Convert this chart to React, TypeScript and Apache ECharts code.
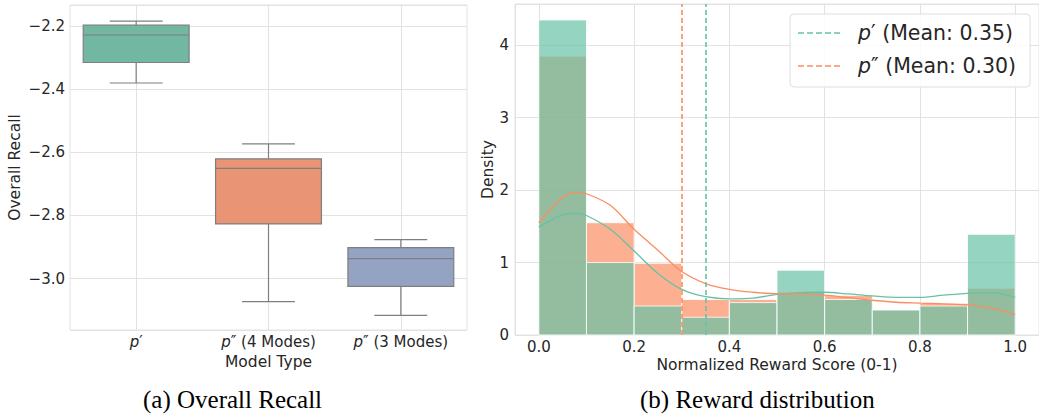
import React, { useEffect, useRef } from "react";
import * as echarts from "echarts";

// ---------- Data: (a) Overall Recall box plot ----------
const models = ["p′", "p″ (4 Modes)", "p″ (3 Modes)"];
const whiskerLow = [-2.381, -3.073, -3.117];
const q1 = [-2.316, -2.827, -3.025];
const median = [-2.229, -2.651, -2.937];
const q3 = [-2.198, -2.621, -2.902];
const whiskerHigh = [-2.185, -2.574, -2.877];

// ---------- Data: (b) Reward distribution ----------
const binStart = [0, 0.1, 0.2, 0.3, 0.4, 0.5, 0.6, 0.7, 0.8, 0.9];
const binWidth = 0.1;
const densityP1 = [4.35, 1.0, 0.4, 0.245, 0.447, 0.894, 0.49, 0.346, 0.4, 1.39];
const densityP2 = [3.85, 1.55, 0.99, 0.49, 0.49, 0.59, 0.544, 0.34, 0.438, 0.645];
const kdeX = [0, 0.05, 0.08, 0.1, 0.15, 0.2, 0.25, 0.3, 0.35, 0.4, 0.45, 0.5, 0.55, 0.6, 0.65, 0.7, 0.75, 0.8, 0.85, 0.9, 0.95, 1.0];
const kdeP1 = [1.49, 1.66, 1.68, 1.65, 1.46, 1.16, 0.85, 0.63, 0.53, 0.5, 0.51, 0.56, 0.585, 0.59, 0.567, 0.54, 0.52, 0.52, 0.55, 0.576, 0.585, 0.52];
const kdeP2 = [1.55, 1.9, 1.97, 1.95, 1.79, 1.46, 1.17, 0.876, 0.71, 0.63, 0.59, 0.57, 0.567, 0.55, 0.515, 0.48, 0.452, 0.44, 0.43, 0.415, 0.37, 0.286];
const meanP1 = 0.35;
const meanP2 = 0.3;
const legendP1 = "p′ (Mean: 0.35)";
const legendP2 = "p″ (Mean: 0.30)";

const FONT = "DejaVu Sans";
const TXT = "#262626";
const GRIDC = "#e2e2e2";
const boxColors = ["#71b7a1", "#e99575", "#95a3c3"];
const boxLine = "#7f7f7f";
const GREEN = "#66c2a5";
const ORANGE = "#fc8d62";
const DASH_ICON = "path://M0,0h6v1.6h-6zM9,0h6v1.6h-6zM18,0h6v1.6h-6zM27,0h6v1.6h-6zM36,0h6v1.6h-6z";

const italicP = (s: string) => s.replace(/^p/, "{i|p}");

export default function App() {
  const ref = useRef<HTMLDivElement>(null);
  useEffect(() => {
    if (!ref.current) return;
    const chart = echarts.init(ref.current, null, { renderer: "svg" });

    const boxData = models.map((_, i) => [i, whiskerLow[i], q1[i], median[i], q3[i], whiskerHigh[i]]);
    const histRender = (fill: string) => (params: any, api: any) => {
      const x0 = api.value(0);
      const x1 = api.value(1);
      const d = api.value(2);
      const p0 = api.coord([x0, 0]);
      const p1 = api.coord([x1, d]);
      return {
        type: "rect",
        shape: { x: p0[0], y: p1[1], width: p1[0] - p0[0], height: p0[1] - p1[1] },
        style: { fill, stroke: "rgba(255,255,255,0.8)", lineWidth: 1 },
      };
    };

    const nameStyle = { fontSize: 15.5, color: TXT, fontFamily: FONT };

    const option: any = {
      animation: false,
      backgroundColor: "#ffffff",
      textStyle: { fontFamily: FONT },
      grid: [
        { left: 70, right: 572, top: 5, bottom: 85, show: true, borderColor: GRIDC, borderWidth: 1 },
        { left: 515, right: -4, top: 4, bottom: 80, show: true, borderColor: GRIDC, borderWidth: 1 },
      ],
      xAxis: [
        {
          type: "category",
          gridIndex: 0,
          data: models,
          boundaryGap: true,
          axisLine: { show: false },
          axisTick: { show: false, alignWithLabel: true },
          splitLine: { show: true, alignWithLabel: true, lineStyle: { color: GRIDC, width: 1 } },
          axisLabel: {
            interval: 0,
            hideOverlap: false,
            margin: 4,
            fontSize: 15,
            lineHeight: 16,
            color: TXT,
            fontFamily: FONT,
            formatter: (v: string) => italicP(v),
            rich: { i: { fontStyle: "italic", fontSize: 15, lineHeight: 16, fontFamily: FONT, color: TXT } },
          },
          name: "Model Type",
          nameLocation: "middle",
          nameGap: 24,
          nameMoveOverlap: false,
          nameTextStyle: nameStyle,
        },
        {
          type: "value",
          gridIndex: 1,
          min: -0.05,
          max: 1.05,
          splitNumber: 5,
          axisLine: { show: false },
          axisTick: { show: false },
          splitLine: { show: true, lineStyle: { color: GRIDC, width: 1 } },
          axisLabel: {
            margin: 4,
            fontSize: 15,
            lineHeight: 16,
            color: TXT,
            fontFamily: FONT,
            showMinLabel: false,
            showMaxLabel: false,
            formatter: (v: number) => v.toFixed(1),
          },
          name: "Normalized Reward Score (0-1)",
          nameLocation: "middle",
          nameGap: 22,
          nameMoveOverlap: false,
          nameTextStyle: nameStyle,
        },
      ],
      yAxis: [
        {
          type: "value",
          gridIndex: 0,
          min: -3.163,
          max: -2.134,
          splitNumber: 5,
          axisLine: { show: false },
          axisTick: { show: false },
          splitLine: { show: true, lineStyle: { color: GRIDC, width: 1 } },
          axisLabel: {
            margin: 5,
            fontSize: 15,
            color: TXT,
            fontFamily: FONT,
            showMinLabel: false,
            showMaxLabel: false,
            formatter: (v: number) => v.toFixed(1).replace("-", "−"),
          },
          name: "Overall Recall",
          nameLocation: "middle",
          nameGap: 47,
          nameMoveOverlap: false,
          nameTextStyle: nameStyle,
        },
        {
          type: "value",
          gridIndex: 1,
          min: 0,
          max: 4.57,
          interval: 1,
          axisLine: { show: false },
          axisTick: { show: false },
          splitLine: { show: true, lineStyle: { color: GRIDC, width: 1 } },
          axisLabel: {
            margin: 6,
            fontSize: 15,
            color: TXT,
            fontFamily: FONT,
            showMaxLabel: false,
          },
          name: "Density",
          nameLocation: "middle",
          nameGap: 19,
          nameMoveOverlap: false,
          nameTextStyle: nameStyle,
        },
      ],
      legend: {
        data: [
          { name: legendP1, icon: DASH_ICON },
          { name: legendP2, icon: DASH_ICON },
        ],
        orient: "vertical",
        left: 790,
        top: 14,
        padding: [8, 14, 10, 8],
        itemWidth: 42,
        itemHeight: 14,
        itemGap: 11,
        backgroundColor: "rgba(255,255,255,0.85)",
        borderColor: "#dedede",
        borderWidth: 1,
        borderRadius: 4,
        formatter: (name: string) => italicP(name),
        textStyle: {
          fontSize: 20.5,
          lineHeight: 22,
          color: TXT,
          fontFamily: FONT,
          padding: [0, 0, 0, 13],
          rich: { i: { fontStyle: "italic", fontSize: 20.5, fontFamily: FONT, color: TXT } },
        },
      },
      series: [
        {
          type: "custom",
          name: "Overall Recall",
          xAxisIndex: 0,
          yAxisIndex: 0,
          data: boxData,
          encode: { x: 0, y: [1, 2, 3, 4, 5] },
          renderItem: (params: any, api: any) => {
            const i = api.value(0);
            const band = api.size([1, 0])[0];
            const half = band * 0.4;
            const cap = band * 0.2;
            const c = api.coord([i, api.value(3)])[0];
            const yLow = api.coord([i, api.value(1)])[1];
            const yQ1 = api.coord([i, api.value(2)])[1];
            const yMed = api.coord([i, api.value(3)])[1];
            const yQ3 = api.coord([i, api.value(4)])[1];
            const yHigh = api.coord([i, api.value(5)])[1];
            const ls = { stroke: boxLine, lineWidth: 1.2 };
            return {
              type: "group",
              children: [
                { type: "line", shape: { x1: c, y1: yHigh, x2: c, y2: yQ3 }, style: ls },
                { type: "line", shape: { x1: c, y1: yQ1, x2: c, y2: yLow }, style: ls },
                { type: "line", shape: { x1: c - cap, y1: yHigh, x2: c + cap, y2: yHigh }, style: ls },
                { type: "line", shape: { x1: c - cap, y1: yLow, x2: c + cap, y2: yLow }, style: ls },
                {
                  type: "rect",
                  shape: { x: c - half, y: yQ3, width: 2 * half, height: yQ1 - yQ3 },
                  style: { fill: boxColors[i], stroke: boxLine, lineWidth: 1.2 },
                },
                { type: "line", shape: { x1: c - half, y1: yMed, x2: c + half, y2: yMed }, style: ls },
              ],
            };
          },
        },
        {
          type: "custom",
          name: "p″ hist",
          xAxisIndex: 1,
          yAxisIndex: 1,
          data: binStart.map((s, i) => [s, s + binWidth, densityP2[i]]),
          encode: { x: [0, 1], y: 2 },
          renderItem: histRender("rgba(252,141,98,0.7)"),
          z: 2,
        },
        {
          type: "custom",
          name: "p′ hist",
          xAxisIndex: 1,
          yAxisIndex: 1,
          data: binStart.map((s, i) => [s, s + binWidth, densityP1[i]]),
          encode: { x: [0, 1], y: 2 },
          renderItem: histRender("rgba(102,194,165,0.7)"),
          z: 3,
        },
        {
          type: "line",
          name: "p′ kde",
          xAxisIndex: 1,
          yAxisIndex: 1,
          data: kdeX.map((x, i) => [x, kdeP1[i]]),
          smooth: 0.35,
          symbol: "none",
          lineStyle: { color: GREEN, width: 1.3 },
          z: 4,
        },
        {
          type: "line",
          name: "p″ kde",
          xAxisIndex: 1,
          yAxisIndex: 1,
          data: kdeX.map((x, i) => [x, kdeP2[i]]),
          smooth: 0.35,
          symbol: "none",
          lineStyle: { color: ORANGE, width: 1.3 },
          z: 4,
        },
        {
          type: "line",
          name: legendP1,
          xAxisIndex: 1,
          yAxisIndex: 1,
          data: [],
          symbol: "none",
          itemStyle: { color: GREEN },
          lineStyle: { color: GREEN, type: [5, 3], width: 1.6 },
          z: 5,
          markLine: {
            silent: true,
            symbol: ["none", "none"],
            label: { show: false },
            lineStyle: { color: GREEN, type: [5, 3], width: 1.6 },
            data: [{ xAxis: meanP1 }],
          },
        },
        {
          type: "line",
          name: legendP2,
          xAxisIndex: 1,
          yAxisIndex: 1,
          data: [],
          symbol: "none",
          itemStyle: { color: ORANGE },
          lineStyle: { color: ORANGE, type: [5, 3], width: 1.6 },
          z: 5,
          markLine: {
            silent: true,
            symbol: ["none", "none"],
            label: { show: false },
            lineStyle: { color: ORANGE, type: [5, 3], width: 1.6 },
            data: [{ xAxis: meanP2 }],
          },
        },
      ],
      graphic: [
        {
          type: "text",
          left: 143,
          top: 387,
          style: { text: "(a) Overall Recall", fontFamily: "Liberation Serif", fontSize: 25, fill: "#000" },
        },
        {
          type: "text",
          left: 640,
          top: 387,
          style: { text: "(b) Reward distribution", fontFamily: "Liberation Serif", fontSize: 25, fill: "#000" },
        },
      ],
    };
    chart.setOption(option);
    return () => chart.dispose();
  }, []);
  return (
    <div
      ref={ref}
      style={{ position: "absolute", left: 0, top: 0, width: 1039, height: 415, background: "#fff" }}
    />
  );
}
